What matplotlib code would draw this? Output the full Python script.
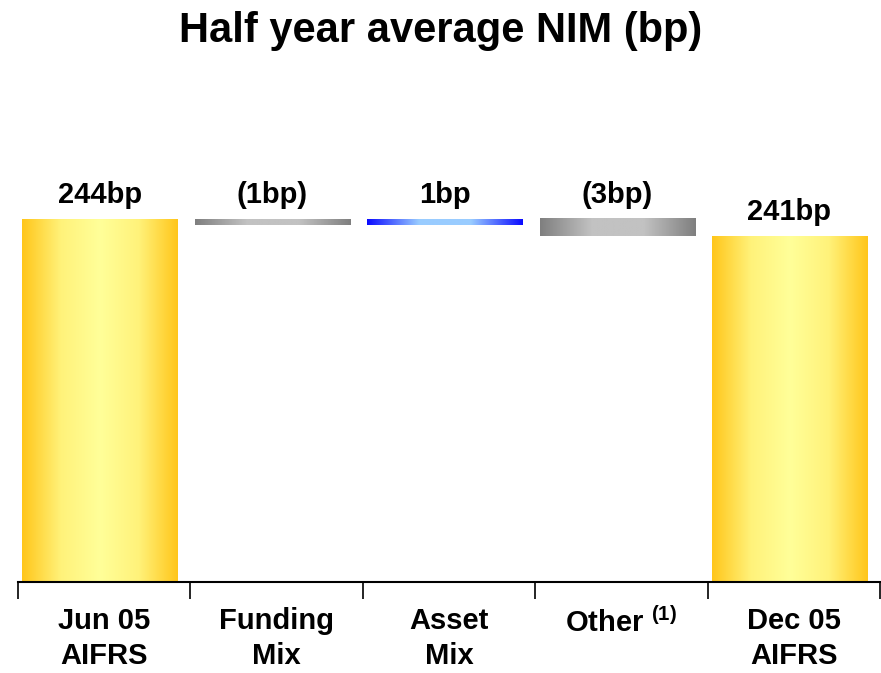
import numpy as np
import matplotlib.pyplot as plt
from matplotlib.colors import LinearSegmentedColormap

plt.rcParams["font.family"] = ["Liberation Sans", "DejaVu Sans"]
plt.rcParams["font.weight"] = "bold"
plt.rcParams["mathtext.fontset"] = "custom"
plt.rcParams["mathtext.rm"] = "Liberation Sans:bold"
plt.rcParams["mathtext.bf"] = "Liberation Sans:bold"

# data
categories = ["Jun 05\nAIFRS", "Funding\nMix", "Asset\nMix", "Other $\\mathregular{^{(1)}}$", "Dec 05\nAIFRS"]
start_nim = 244
changes = [-1, 1, -3]
end_nim = 241
value_labels = ["244bp", "(1bp)", "1bp", "(3bp)", "241bp"]

# waterfall bottoms / heights
y0 = 180
bottoms = [y0]
heights = [start_nim - y0]
level = start_nim
for c in changes:
    bottoms.append(min(level, level + c))
    heights.append(abs(c))
    level += c
bottoms.append(y0)
heights.append(end_nim - y0)

gold = LinearSegmentedColormap.from_list("gold", ["#FFC61A", "#FFF27A", "#FFFF99", "#FFF27A", "#FFC61A"])
grey = LinearSegmentedColormap.from_list("grey", ["#7F7F7F", "#C2C2C2", "#C2C2C2", "#7F7F7F"])
blue = LinearSegmentedColormap.from_list("blue", ["#0A0AFF", "#99CCFF", "#99CCFF", "#0A0AFF"])
cmaps = [gold, grey, blue, grey, gold]

fig = plt.figure(figsize=(8.81, 6.73), dpi=100)
ax = fig.add_axes([18 / 881, 1 - 582 / 673, 862 / 881, (582 - 150) / 673])

x = np.arange(len(categories))
bars = ax.bar(x - 0.025, heights, bottom=bottoms, width=0.9, color="none", edgecolor="none")

# horizontal gradient fill inside each bar
grad = np.linspace(0, 1, 256).reshape(1, -1)
for b, cm in zip(bars, cmaps):
    bx, by = b.get_x(), b.get_y()
    ax.imshow(grad, cmap=cm, aspect="auto",
              extent=[bx, bx + b.get_width(), by, by + b.get_height()], zorder=2)

for b, lab in zip(bars, value_labels):
    ax.annotate(lab, (b.get_x() + b.get_width() / 2, b.get_y() + b.get_height()),
                xytext=(0, 11.5), textcoords="offset points", ha="center", va="baseline",
                fontsize=21, fontweight="bold")

ax.set_xlim(-0.5, len(categories) - 0.5)
ax.set_ylim(y0, 256.2)

for s in ["top", "right", "left"]:
    ax.spines[s].set_visible(False)
ax.spines["bottom"].set_linewidth(1.5)
ax.set_yticks([])

ax.set_xticks(x)
ax.set_xticklabels(categories, fontsize=21, fontweight="bold", linespacing=1.3)
ax.tick_params(axis="x", which="major", length=0, pad=18)
ax.set_xticks(np.arange(-0.5, len(categories)), minor=True)
ax.tick_params(axis="x", which="minor", length=12, width=1.2, direction="out")

fig.text(0.5, 1 - 42 / 673, "Half year average NIM (bp)", fontsize=30, fontweight="bold",
         ha="center", va="baseline")

fig.savefig("out.png", dpi=100)
